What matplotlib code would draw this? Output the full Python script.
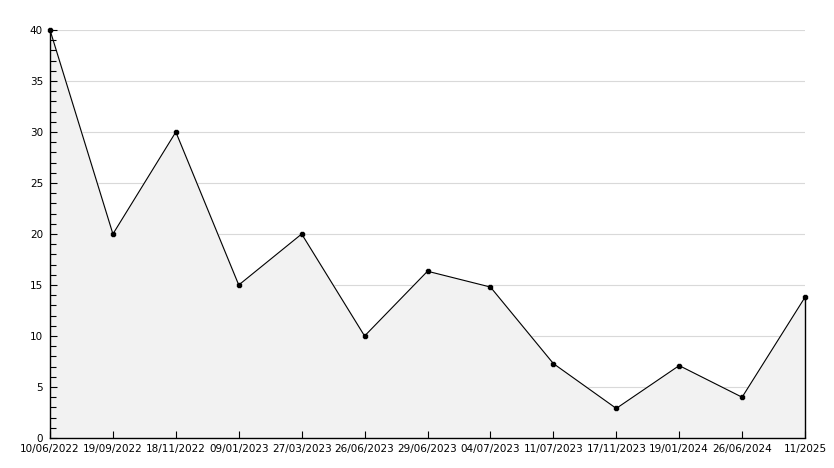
import matplotlib
matplotlib.use("Agg")
import matplotlib.pyplot as plt
from matplotlib.ticker import MultipleLocator

dates = ["10/06/2022", "19/09/2022", "18/11/2022", "09/01/2023", "27/03/2023",
         "26/06/2023", "29/06/2023", "04/07/2023", "11/07/2023", "17/11/2023",
         "19/01/2024", "26/06/2024", "11/2025"]
values = [40, 20, 30, 15, 20, 10, 16.35, 14.8, 7.3, 2.9, 7.1, 4.0, 13.8]

fig = plt.figure(figsize=(8.34, 4.68), dpi=100)
ax = fig.add_axes([50 / 834, 30 / 468, 755 / 834, 408 / 468])

x = list(range(len(values)))

# grid behind the filled area, ticks above it
for g in range(5, 41, 5):
    ax.axhline(g, color="#d9d9d9", linewidth=0.8, zorder=0.5)

ax.fill_between(x, values, 0, color="#f2f2f2", zorder=1)
ax.plot(x, values, color="black", linewidth=0.8, marker="8", markersize=3.8,
        markerfacecolor="black", zorder=3, clip_on=False)
# closing edge of the filled area on the right
ax.vlines(x[-1], 0, values[-1], color="black", linewidth=1.0, zorder=2,
          clip_on=False)

ax.set_xlim(0, len(values) - 1)
ax.set_ylim(0, 40)
ax.yaxis.set_major_locator(MultipleLocator(5))
ax.yaxis.set_minor_locator(MultipleLocator(1))
ax.set_xticks(x)
ax.set_xticklabels(dates)

ax.tick_params(axis="both", which="major", direction="in", length=5, width=0.8,
               labelsize=7.5)
ax.tick_params(axis="x", which="major", pad=4)
ax.tick_params(axis="y", which="major", pad=5)
ax.tick_params(axis="y", which="minor", direction="in", length=4, width=0.8)
ax.spines["top"].set_visible(False)
ax.spines["right"].set_visible(False)
for s in ["left", "bottom"]:
    ax.spines[s].set_linewidth(1.0)

fig.savefig("out.png", dpi=100)
